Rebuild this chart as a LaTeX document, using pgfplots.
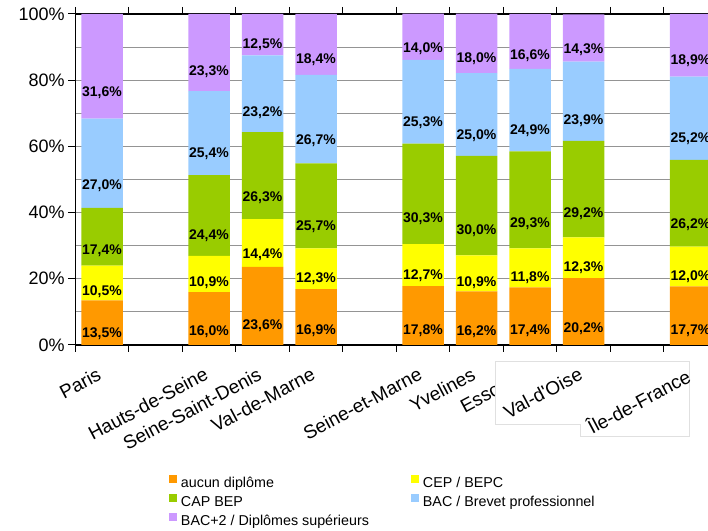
\documentclass[border=0pt]{standalone}
\usepackage{pgfplots}
\pgfplotsset{compat=1.18}
\usepackage{pgfplotstable}
\usepackage{fontspec}
\setmainfont{Liberation Sans}

\definecolor{cAuc}{HTML}{FF9900}
\definecolor{cCep}{HTML}{FFFF00}
\definecolor{cCap}{HTML}{99CC00}
\definecolor{cBac}{HTML}{99CCFF}
\definecolor{cSup}{HTML}{CC99FF}

\newcommand\ytfont{\fontsize{18bp}{21bp}\selectfont}
\newcommand\xtfont{\fontsize{19bp}{22bp}\selectfont}
\newcommand\blfont{\fontsize{14bp}{16bp}\selectfont\bfseries}
\newcommand\lgfont{\fontsize{14.3bp}{17bp}\selectfont}

\makeatletter
\pgfplotsset{
  halfshift/.code={%
    \pgfkeys{/pgf/fpu=true,/pgf/fpu/output format=fixed}%
    \pgfmathsetmacro\halfoff{0.25*\pgfplotspointmeta*10^\pgfplots@data@scale@trafo@EXPONENT@y*\pgfplots@y@veclength}%
    \pgfkeys{/pgf/fpu=false}%
  },
}
\makeatother

\pgfplotstableread{
x auc cep cap bac sup
0 13.5 10.5 17.4 27.0 31.6
2 16.0 10.9 24.4 25.4 23.3
3 23.6 14.4 26.3 23.2 12.5
4 16.9 12.3 25.7 26.7 18.4
6 17.8 12.7 30.3 25.3 14.0
7 16.2 10.9 30.0 25.0 18.0
8 17.4 11.8 29.3 24.9 16.6
9 20.2 12.3 29.2 23.9 14.3
11 17.7 12.0 26.2 25.2 18.9
}\data

\begin{document}
\begin{tikzpicture}[x=1bp,y=1bp]
\begin{axis}[
  at={(75.25bp,186bp)}, anchor=south west,
  scale only axis, width=642bp, height=331bp,
  xmin=-0.5, xmax=11.5, ymin=0, ymax=100,
  clip=false,
  ybar stacked, bar width=41.5bp,
  axis line style={black, line width=1.3bp},
  tick align=outside,
  major tick length=7bp, minor tick length=0bp,
  tick style={black, line width=1bp},
  xtick={-0.5,0.5,...,11.5}, xticklabels={},
  ytick={0,20,...,100},
  minor ytick={10,30,...,90},
  ymajorgrids, yminorgrids,
  major grid style={black!42, line width=1bp},
  minor grid style={black!42, line width=1bp},
  yticklabel={\pgfmathprintnumber[assume math mode=true]{\tick}\%},
  yticklabel style={font=\ytfont},
  nodes near coords={\pgfmathprintnumber[fixed,fixed zerofill,precision=1,use comma,assume math mode=true]{\pgfplotspointmeta}\%},
  every node near coord/.append style={font=\blfont, text=black, anchor=center, inner sep=0pt, /pgfplots/halfshift, yshift=-\halfoff pt},
  legend columns=2,
  legend cell align=left,
  legend style={at={(0.146,-0.391)}, anchor=north west, draw=none, fill=none,
    inner sep=0pt, outer sep=0pt, font=\lgfont, row sep=0pt,
    nodes={inner sep=1bp, text height=12bp, text depth=5bp},
    /tikz/every odd column/.append style={column sep=3bp},
    /tikz/every even column/.append style={column sep=41bp}},
  legend image code/.code={\path[#1, draw=none] (0bp,1bp) rectangle (8bp,9bp);},
]
\addplot[fill=cAuc, draw=none] table[x=x,y=auc]{\data};
\addplot[fill=cCep, draw=none] table[x=x,y=cep]{\data};
\addplot[fill=cCap, draw=none] table[x=x,y=cap]{\data};
\addplot[fill=cBac, draw=none] table[x=x,y=bac]{\data};
\addplot[fill=cSup, draw=none] table[x=x,y=sup]{\data};
\legend{aucun diplôme, CEP / BEPC, CAP BEP, BAC / Brevet professionnel, BAC+2 / Diplômes supérieurs}
\end{axis}
\tikzset{xlab/.style={font=\xtfont, rotate=28, anchor=north east, inner sep=0pt}}
\foreach \i/\t in {0/Paris,2/Hauts-de-Seine,3/Seine-Saint-Denis,4/Val-de-Marne,6/Seine-et-Marne,7/Yvelines,8/Essonne}
  \node[xlab] at ({75.25+(\i+0.5)*53.5-6},164.5) {\t};
\filldraw[fill=white, draw=black!12, line width=1bp]
  (495,169) -- (689,169) -- (689,94) -- (580,94) -- (580,106) -- (495,106) -- cycle;
\node[xlab] at ({75.25+9.5*53.5-6},164.5) {Val-d\textquotesingle Oise};
\node[xlab] at ({75.25+11.5*53.5-6},164.5) {Île-de-France};
\pgfresetboundingbox
\useasboundingbox (0,0) rectangle (708,531);
\end{tikzpicture}
\end{document}
